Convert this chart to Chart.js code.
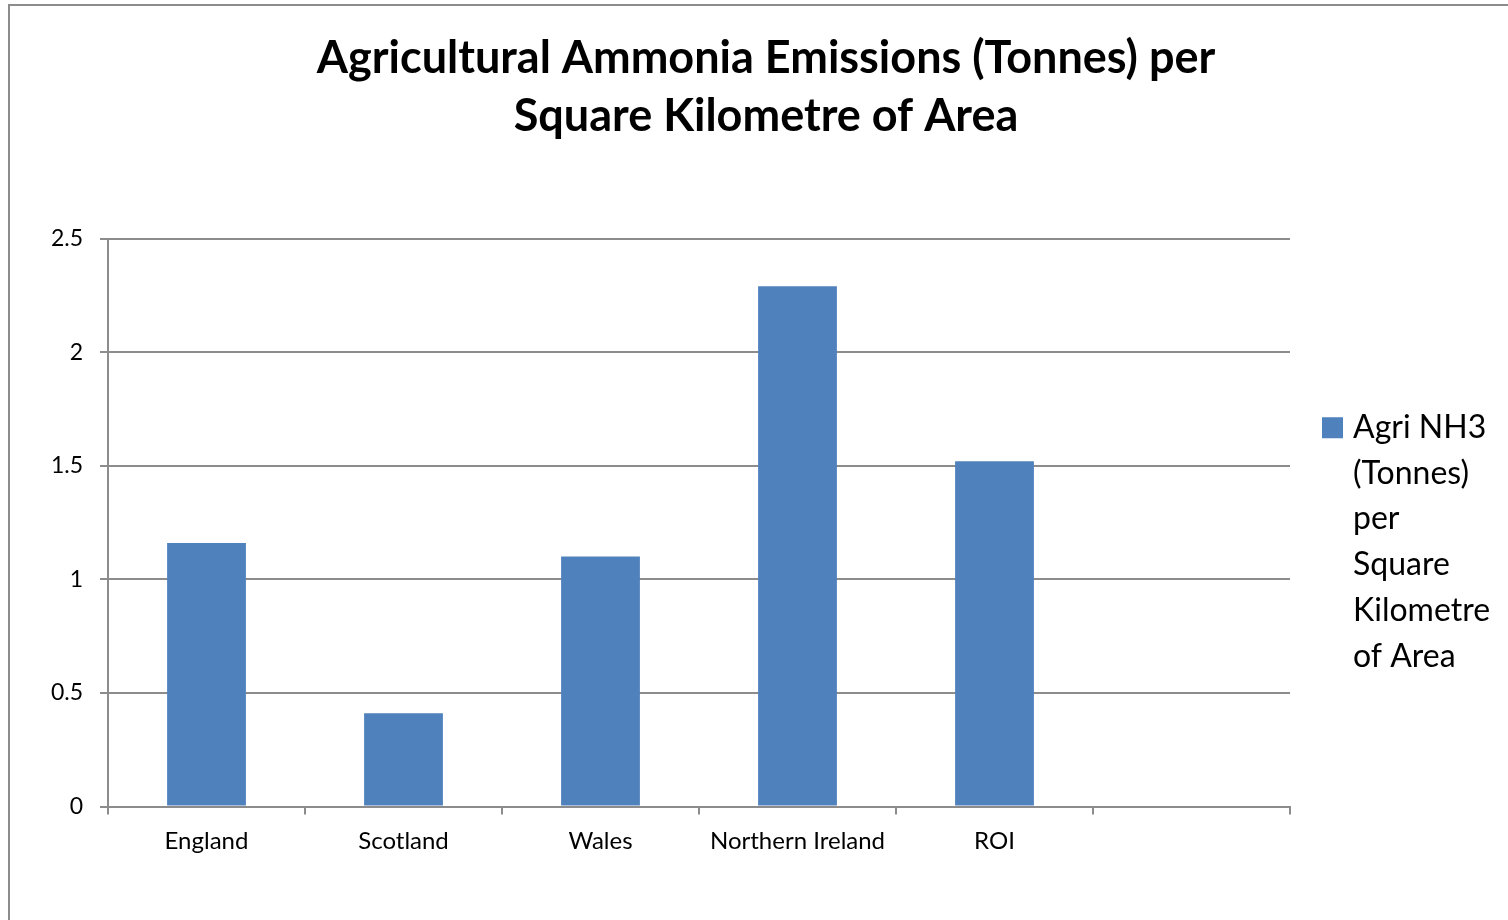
<!DOCTYPE html>
<html>
<head>
<meta charset="utf-8">
<title>Agricultural Ammonia Emissions</title>
<script src="https://cdn.jsdelivr.net/npm/chart.js@4.4.0/dist/chart.umd.min.js"></script>
<style>
  html, body { margin: 0; padding: 0; background: #ffffff; overflow: hidden; }
  #frame { position: absolute; left: 8px; top: 4px; width: 1600px; height: 1000px;
           border: 2px solid #8c8c8c; box-sizing: border-box; }
  #wrap { position: absolute; left: 0; top: 0; width: 1508px; height: 920px; }
</style>
</head>
<body>
<div id="frame"></div>
<div id="wrap"><canvas id="chart" width="1508" height="920"></canvas></div>
<script>
// Chart data
const chartTitle = ['Agricultural Ammonia Emissions (Tonnes) per', 'Square Kilometre of Area'];
const categories = ['England', 'Scotland', 'Wales', 'Northern Ireland', 'ROI', ''];
const nh3PerKm2 = [1.16, 0.41, 1.10, 2.29, 1.52, null];
const seriesLines = ['Agri NH3', '(Tonnes)', 'per', 'Square', 'Kilometre', 'of Area'];
const yTicks = [0, 0.5, 1, 1.5, 2, 2.5];

const FONT = 'Lato, "Open Sans", "DejaVu Sans", sans-serif';
const GRID = '#8c8c8c';
const BAR = '#4F81BD';

// Right-hand legend whose label wraps over several lines
const wrappedLegend = {
  id: 'wrappedLegend',
  start(chart, args, opts) {
    const box = {
      position: 'right',
      weight: 1000,
      fullSize: false,
      options: {},
      left: 0, top: 0, right: 0, bottom: 0, width: 0, height: 0,
      isHorizontal() { return false; },
      update(maxWidth, maxHeight) {
        this.width = opts.width;
        this.height = maxHeight;
      },
      getPadding() { return { top: 0, left: 0, right: 0, bottom: 0 }; },
      draw() {
        const ctx = chart.ctx;
        const ds = chart.data.datasets[0];
        const lines = ds.legendLines;
        const lh = opts.lineHeight;
        const area = chart.chartArea;
        const blockTop = (area.top + area.bottom) / 2 + opts.shiftY - (lines.length * lh) / 2;
        const sx = this.left + opts.boxOffset;
        ctx.save();
        ctx.fillStyle = ds.backgroundColor;
        ctx.fillRect(sx, blockTop + lh / 2 - opts.boxSize / 2, opts.boxSize, opts.boxSize);
        ctx.fillStyle = '#000000';
        ctx.font = opts.fontSize + 'px ' + FONT;
        ctx.textAlign = 'left';
        ctx.textBaseline = 'middle';
        lines.forEach((t, i) => {
          ctx.fillText(t, sx + opts.boxSize + opts.gap, blockTop + lh / 2 + i * lh);
        });
        ctx.restore();
      }
    };
    chart.$wrappedLegendBox = box;
    Chart.layouts.addBox(chart, box);
  },
  stop(chart) {
    if (chart.$wrappedLegendBox) Chart.layouts.removeBox(chart, chart.$wrappedLegendBox);
  }
};

new Chart(document.getElementById('chart'), {
  type: 'bar',
  data: {
    labels: categories,
    datasets: [{
      label: seriesLines.join(' '),
      legendLines: seriesLines,
      data: nh3PerKm2,
      backgroundColor: BAR,
      borderWidth: 0,
      barPercentage: 0.4,
      categoryPercentage: 1.0
    }]
  },
  plugins: [wrappedLegend],
  options: {
    responsive: false,
    animation: false,
    layout: { padding: { left: 24, right: 0, top: 0, bottom: 53.5 } },
    plugins: {
      legend: { display: false },
      tooltip: { enabled: false },
      title: {
        display: true,
        text: chartTitle,
        color: '#000000',
        font: { family: FONT, size: 45, weight: 'bold', lineHeight: 58 / 45 },
        padding: { top: 29, bottom: 93.5 }
      },
      wrappedLegend: { width: 218, boxOffset: 32, boxSize: 21, gap: 10, fontSize: 32, lineHeight: 45.7, shiftY: 19.5 }
    },
    scales: {
      x: {
        offset: true,
        grid: { offset: true, drawOnChartArea: false, drawTicks: true, tickLength: 8, color: GRID, lineWidth: 2 },
        border: { display: true, color: GRID, width: 2 },
        ticks: { color: '#000000', font: { family: FONT, size: 24 }, padding: 12, maxRotation: 0, autoSkip: false },
        afterFit(s) { s.height = 60; }
      },
      y: {
        min: 0,
        max: 2.5,
        afterBuildTicks(s) { s.ticks = yTicks.map(v => ({ value: v })); },
        grid: { drawOnChartArea: true, drawTicks: true, tickLength: 8, color: GRID, lineWidth: 2 },
        border: { display: true, color: GRID, width: 2 },
        ticks: { color: '#000000', font: { family: FONT, size: 23 }, padding: 17, callback: v => String(v) },
        afterFit(s) { s.width = 84; }
      }
    }
  }
});
</script>
</body>
</html>
